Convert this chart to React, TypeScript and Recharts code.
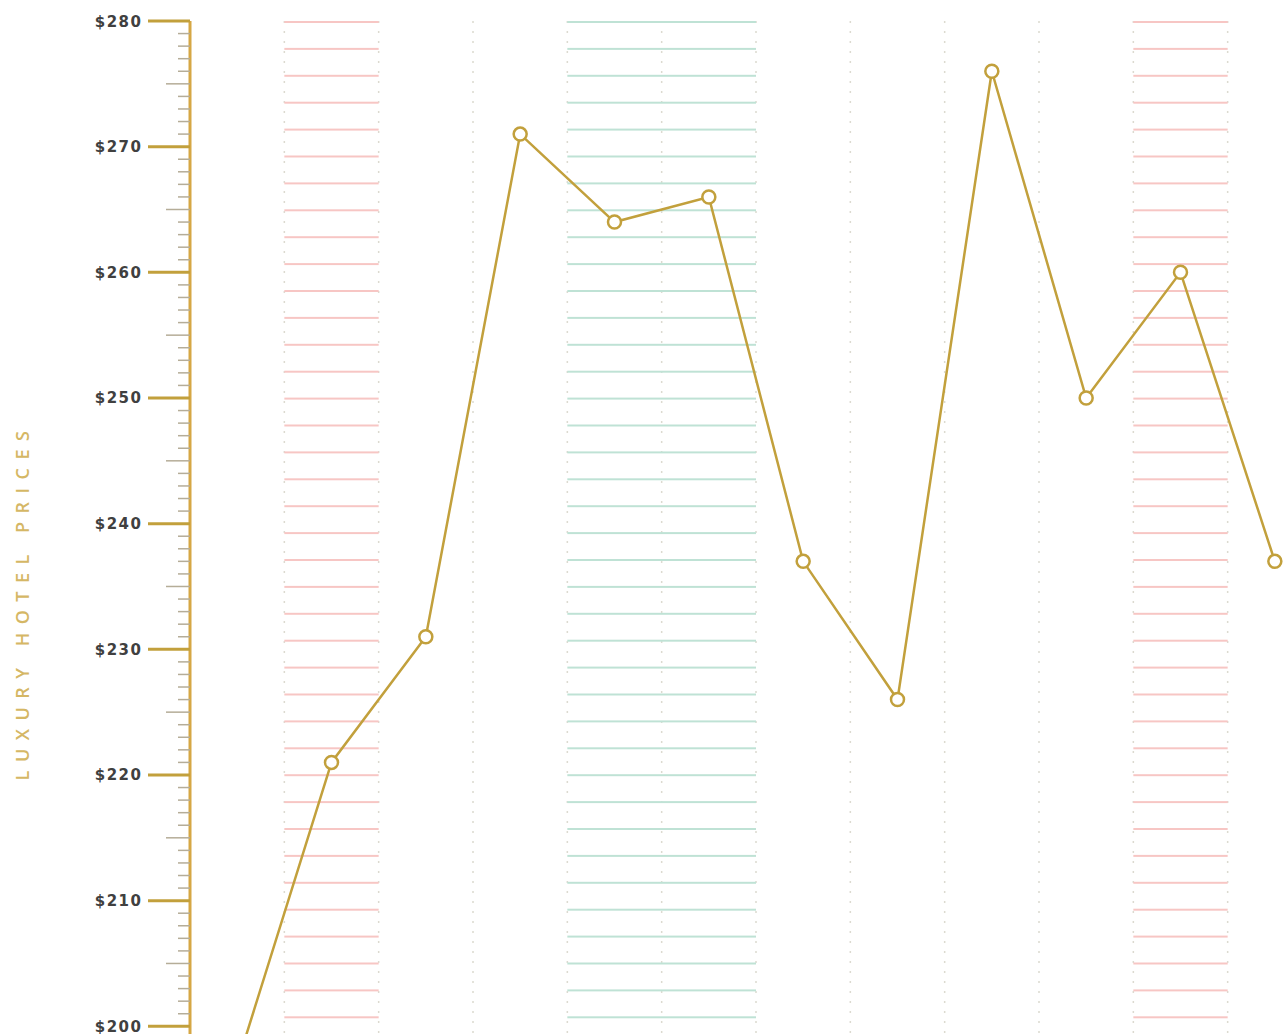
import * as React from 'react';
import {CartesianGrid, Line, LineChart, ReferenceArea, XAxis, YAxis} from 'recharts';

const months = ['Jan', 'Feb', 'Mar', 'Apr', 'May', 'Jun', 'Jul', 'Aug', 'Sep', 'Oct', 'Nov', 'Dec'];
const prices = [197, 221, 231, 271, 264, 266, 237, 226, 276, 250, 260, 237];
const pinkMonths = ['Feb', 'Nov'];
const tealMonths = ['May', 'Jun'];
const priceTicks: number[] = [];
for (let v = 200; v <= 280; v++) priceTicks.push(v);
const boundaries = [1, 2, 3, 4, 5, 6, 7, 8, 9, 10, 11];

const GOLD = '#c2a03c';
const AXIS_GOLD = '#d6a744';

type Point = {month: string; pos: number; price: number};
const data: Point[] = months.map((month, i) => ({month, pos: i + 0.5, price: prices[i]}));
const monthStart = (m: string) => months.indexOf(m);

const PriceTick = (props: any) => {
    const {x, y, payload} = props;
    const v: number = payload.value;
    if (v % 10 === 0) {
        return (
            <g>
                <line x1={x - 42} x2={x} y1={y} y2={y} stroke={GOLD} strokeWidth={3} />
                <text
                    x={x - 47.5}
                    y={y}
                    dy={5.5}
                    textAnchor="end"
                    fontFamily="'DejaVu Sans', sans-serif"
                    fontWeight={700}
                    fontSize={15}
                    letterSpacing={1.5}
                    fill="#404040">
                    ${v}
                </text>
            </g>
        );
    }
    const len = v % 5 === 0 ? 24 : 12;
    return <line x1={x - len} x2={x} y1={y} y2={y} stroke="#b5ad98" strokeWidth={1.5} />;
};

const SideLabel = (props: any) => {
    const {viewBox} = props;
    const cx = 29;
    const cy = viewBox.y + viewBox.height / 2 + 59;
    return (
        <text
            x={cx}
            y={cy}
            transform={`rotate(-90 ${cx} ${cy})`}
            textAnchor="middle"
            fontFamily="'Open Sans', sans-serif"
            fontWeight={600}
            fontSize={18}
            letterSpacing={8.5}
            fill="#d5b765">
            LUXURY HOTEL PRICES
        </text>
    );
};

export default function App() {
    return (
        <div style={{position: 'absolute', left: 0, top: 0, width: 1284, height: 1034, overflow: 'hidden', background: '#fff'}}>
            <LineChart width={1330} height={1100} data={data} margin={{top: 21, right: 8, left: 0, bottom: 36}}>
                <defs>
                    <pattern id="pinkStripes" patternUnits="userSpaceOnUse" x={0} y={21} width={10} height={26.9}>
                        <rect x={0} y={0} width={10} height={2} fill="#f7c6c4" />
                    </pattern>
                    <pattern id="tealStripes" patternUnits="userSpaceOnUse" x={0} y={21} width={10} height={26.9}>
                        <rect x={0} y={0} width={10} height={2} fill="#bfe2d5" />
                    </pattern>
                </defs>
                {pinkMonths.map((m) => (
                    <ReferenceArea
                        key={m}
                        x1={monthStart(m)}
                        x2={monthStart(m) + 1}
                        fill="url(#pinkStripes)"
                        fillOpacity={1}
                        stroke="none"
                    />
                ))}
                <ReferenceArea
                    x1={monthStart(tealMonths[0])}
                    x2={monthStart(tealMonths[tealMonths.length - 1]) + 1}
                    fill="url(#tealStripes)"
                    fillOpacity={1}
                    stroke="none"
                />
                <CartesianGrid horizontal={false} stroke="#dcdad0" strokeDasharray="2 8" strokeWidth={1.5} />
                <XAxis dataKey="pos" type="number" domain={[0, 12]} ticks={boundaries} hide />
                <YAxis
                    dataKey="price"
                    type="number"
                    domain={['dataMin', 280]}
                    ticks={priceTicks}
                    interval={0}
                    width={190}
                    tickSize={0}
                    tickMargin={0}
                    tickLine={false}
                    tick={<PriceTick />}
                    axisLine={{stroke: AXIS_GOLD, strokeWidth: 3}}
                    label={<SideLabel />}
                />
                <Line
                    type="linear"
                    dataKey="price"
                    stroke={GOLD}
                    strokeWidth={2.5}
                    dot={{r: 6.5, fill: '#fff', stroke: GOLD, strokeWidth: 2.5}}
                    isAnimationActive={false}
                />
            </LineChart>
        </div>
    );
}
